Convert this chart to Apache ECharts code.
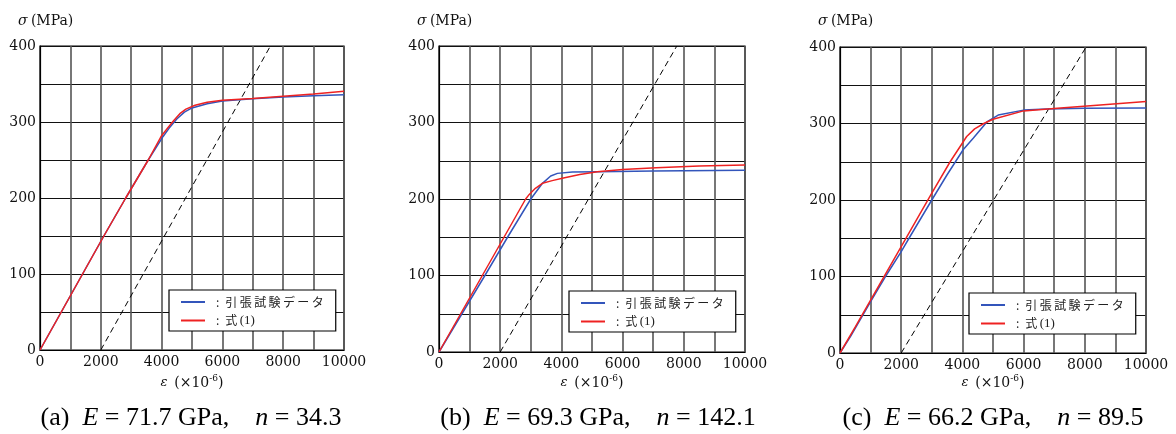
<!DOCTYPE html>
<html>
<head>
<meta charset="utf-8">
<script src="https://cdn.jsdelivr.net/npm/echarts@6/dist/echarts.min.js"></script>
<style>
  html, body { margin: 0; padding: 0; background: #fff; }
  #chart { width: 1176px; height: 434px; }
</style>
</head>
<body>
<div id="chart"></div>
<script>
// 読み取った値 (ε: ×10^-6, σ: MPa)
var aTestEps = [0, 700, 1400, 2100, 2820, 3560, 4050, 4250, 4500, 4750, 5000, 5500, 6000, 7000, 8000, 9000, 10000];
var aTestSig = [0, 50, 100, 150, 200, 250, 281, 292, 304, 313, 318.5, 324, 327.5, 330.5, 333, 334.5, 336];
var aFitEps = [0, 700, 1400, 2100, 2820, 3560, 4000, 4200, 4400, 4600, 4800, 5100, 5500, 6000, 7000, 8000, 9000, 10000];
var aFitSig = [0, 50, 100, 150, 200, 250, 282, 292, 302, 311, 317, 322, 326, 328.5, 331, 334, 337, 340.5];

var bTestEps = [0, 750, 1500, 2240, 3000, 3380, 3650, 3870, 4360, 5230, 7000, 10000];
var bTestSig = [0, 50, 100, 150, 200, 220.5, 230, 233.5, 235.3, 235.7, 236.5, 237.5];
var bFitEps = [0, 708, 1416, 2124, 2832, 2950, 3150, 3380, 3700, 4030, 4600, 5170, 6000, 7100, 8500, 10000];
var bFitSig = [0, 50, 100, 150, 200, 206, 214, 220.5, 224, 227, 232, 235.7, 238.5, 241, 243, 244.5];

var cTestEps = [0, 350, 1000, 1470, 2000, 2255, 3000, 3500, 4030, 4360, 4800, 5170, 6000, 6750, 8000, 10000];
var cTestSig = [0, 22, 67, 99, 132.5, 150, 200, 233, 266, 281, 302, 311, 317.5, 319, 320, 320.3];
var cFitEps = [0, 500, 1000, 1500, 2000, 2500, 3000, 3600, 4140, 4400, 4700, 5000, 6000, 7100, 8400, 10000];
var cFitSig = [0, 34, 69, 104, 139, 174, 209, 250, 283, 293, 300, 305.5, 316.5, 320, 324, 328.6];

// 0.2%オフセット線
var offsetEps = [[2000, 7579], [2000, 7772], [2000, 8042]];
var offsetSig = [0, 400];

var captionE = ['71.7', '69.3', '66.2'];
var captionN = ['34.3', '142.1', '89.5'];
var captionTag = ['(a)', '(b)', '(c)'];

var seriesNames = ['引張試験データ', '式 (1)'];

var myChart = echarts.init(document.getElementById('chart'));
var serif = '"Liberation Serif", "Times New Roman", serif';
var wide = '"DejaVu Serif", serif';
var cjk = '"Noto Sans CJK JP", sans-serif';

function zip(xs, ys) {
  return xs.map(function (x, i) { return [x, ys[i]]; });
}

// パネルの位置
var panels = [
  { left: 40, top: 46, size: 304, legL: 169, legT: 290, yLab: 18, epsX: 192, capX: 191 },
  { left: 439, top: 46, size: 306, legL: 569, legT: 291, yLab: 417, epsX: 592, capX: 598 },
  { left: 840, top: 47, size: 306, legL: 969, legT: 293, yLab: 818, epsX: 993, capX: 993 }
];
var testData = [zip(aTestEps, aTestSig), zip(bTestEps, bTestSig), zip(cTestEps, cTestSig)];
var fitData = [zip(aFitEps, aFitSig), zip(bFitEps, bFitSig), zip(cFitEps, cFitSig)];

var grids = [], xAxes = [], yAxes = [], series = [], legends = [], graphics = [];

panels.forEach(function (p, i) {
  grids.push({
    left: p.left, top: p.top, width: p.size, height: p.size,
    show: true, borderColor: '#000', borderWidth: 1.2, backgroundColor: '#fff'
  });
  xAxes.push({
    type: 'value', gridIndex: i, min: 0, max: 10000, interval: 2000,
    axisLine: { show: true, lineStyle: { color: '#000', width: 1.2 } },
    axisTick: { show: false },
    axisLabel: {
      color: '#111', fontFamily: wide, fontSize: 14, margin: 5,
      formatter: function (v) { return String(v); }
    },
    splitLine: { show: true, lineStyle: { color: '#555', width: 1.6 } },
    minorTick: { show: false, splitNumber: 2 },
    minorSplitLine: { show: true, lineStyle: { color: '#555', width: 1.6 } }
  });
  yAxes.push({
    type: 'value', gridIndex: i, min: 0, max: 400, interval: 100,
    axisLine: { show: true, lineStyle: { color: '#000', width: 1.2 } },
    axisTick: { show: false },
    axisLabel: {
      color: '#111', fontFamily: wide, fontSize: 14, margin: 4,
      formatter: function (v) { return String(v); }
    },
    splitLine: { show: true, lineStyle: { color: '#111', width: 1 } },
    minorTick: { show: false, splitNumber: 2 },
    minorSplitLine: { show: true, lineStyle: { color: '#111', width: 1 } }
  });
  series.push({
    name: seriesNames[0], type: 'line', xAxisIndex: i, yAxisIndex: i,
    data: testData[i], showSymbol: false, symbol: 'none',
    lineStyle: { color: '#3355bb', width: 1.5 }, itemStyle: { color: '#3355bb' }, z: 3
  });
  series.push({
    name: seriesNames[1], type: 'line', xAxisIndex: i, yAxisIndex: i,
    data: fitData[i], showSymbol: false, symbol: 'none',
    lineStyle: { color: '#ee2222', width: 1.5 }, itemStyle: { color: '#ee2222' }, z: 4
  });
  series.push({
    type: 'line', xAxisIndex: i, yAxisIndex: i,
    data: zip(offsetEps[i], offsetSig), showSymbol: false, symbol: 'none',
    lineStyle: { color: '#000', width: 1, type: [6, 4] }, z: 2
  });
  legends.push({
    orient: 'vertical', left: p.legL, top: p.legT,
    data: seriesNames, selectedMode: false,
    backgroundColor: '#fff', borderColor: '#000', borderWidth: 1.2, borderRadius: 0,
    padding: [6, 12, 4, 12], itemGap: 6, itemWidth: 24, itemHeight: 14,
    icon: 'path://M0,6 L24,6 L24,8 L0,8 Z',
    formatter: function (name) {
      if (name === seriesNames[1]) return '{c|\u2002:\u2002式\u2009}{s|(1)}';
      return '{c|\u2002:\u2002' + name.split('').join('\u2009') + '}';
    },
    textStyle: {
      color: '#222', fontFamily: cjk, fontSize: 12,
      rich: {
        c: { fontFamily: cjk, fontSize: 12, color: '#222', lineHeight: 16 },
        s: { fontFamily: serif, fontSize: 13, color: '#222', lineHeight: 16 }
      }
    }
  });
  // 軸名
  graphics.push({
    type: 'text', left: p.yLab, top: 14,
    style: {
      text: '{i|σ} {n|(MPa)}',
      rich: {
        i: { fontFamily: wide, fontStyle: 'italic', fontSize: 14, fill: '#111' },
        n: { fontFamily: wide, fontSize: 14, fill: '#111' }
      }
    }
  });
  graphics.push({
    type: 'text', x: p.epsX, y: 383,
    style: {
      text: '{i|ε}  {n|(×10}{s|-6}{n|)}', align: 'center', verticalAlign: 'middle',
      rich: {
        i: { fontFamily: wide, fontStyle: 'italic', fontSize: 13, fill: '#111' },
        n: { fontFamily: wide, fontSize: 14, fill: '#111' },
        s: { fontFamily: wide, fontSize: 9, fill: '#111', padding: [0, 0, 8, 0] }
      }
    }
  });
  // キャプション
  graphics.push({
    type: 'text', x: p.capX, y: 418,
    style: {
      text: '{n|' + captionTag[i] + '  }{i|E}{n| = ' + captionE[i] + ' GPa,    }{i|n}{n| = ' + captionN[i] + '}',
      align: 'center', verticalAlign: 'middle',
      rich: {
        i: { fontFamily: serif, fontStyle: 'italic', fontSize: 26, fill: '#000' },
        n: { fontFamily: serif, fontSize: 26, fill: '#000' }
      }
    }
  });
});

var option = {
  backgroundColor: '#fff',
  animation: false,
  grid: grids,
  xAxis: xAxes,
  yAxis: yAxes,
  legend: legends,
  series: series,
  graphic: graphics
};
myChart.setOption(option);
</script>
</body>
</html>
